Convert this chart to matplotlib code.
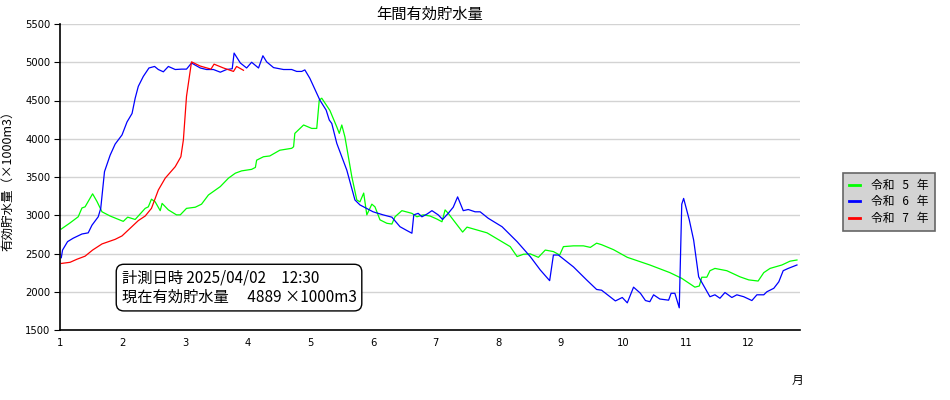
import matplotlib
matplotlib.use("Agg")
import matplotlib.pyplot as plt

plt.rcParams['font.family'] = ['Noto Sans CJK JP', 'DejaVu Sans']

# 令和5年 (x = 月)
r5_x = [1.02, 1.16, 1.29, 1.35, 1.40, 1.52, 1.59, 1.67, 1.80, 2.01, 2.08, 2.20, 2.36, 2.41,
        2.46, 2.52, 2.60, 2.63, 2.73, 2.86, 2.92, 3.02, 3.16, 3.26, 3.37, 3.56, 3.69, 3.80,
        3.90, 4.06, 4.12, 4.14, 4.25, 4.35, 4.51, 4.70, 4.73, 4.75, 4.89, 5.02, 5.10, 5.14,
        5.18, 5.31, 5.42, 5.46, 5.50, 5.55, 5.66, 5.74, 5.79, 5.85, 5.90, 5.98, 6.03, 6.11,
        6.22, 6.30, 6.35, 6.46, 6.62, 6.70, 6.80, 6.91, 7.02, 7.10, 7.15, 7.20, 7.43, 7.50,
        7.82, 8.19, 8.30, 8.40, 8.51, 8.64, 8.75, 8.88, 8.98, 9.04, 9.20, 9.36, 9.47, 9.57,
        9.65, 9.84, 10.06, 10.42, 10.74, 10.93, 11.14, 11.21, 11.25, 11.33, 11.38, 11.46,
        11.65, 11.86, 12.00, 12.15, 12.24, 12.34, 12.53, 12.66, 12.77]
r5_y = [2820, 2900, 2980, 3095, 3110, 3280, 3180, 3045, 2990, 2920, 2975, 2945, 3090, 3110,
        3210, 3175, 3060, 3155, 3070, 3005, 3005, 3090, 3105, 3145, 3265, 3375, 3485, 3550,
        3580, 3600, 3625, 3720, 3765, 3775, 3850, 3875, 3895, 4070, 4180, 4135, 4135, 4505,
        4530, 4370, 4155, 4070, 4180, 4025, 3505, 3200, 3175, 3290, 3005, 3145, 3110, 2940,
        2895, 2885, 2980, 3060, 3025, 2980, 3005, 2990, 2950, 2915, 3070, 3025, 2780, 2845,
        2770, 2590, 2460, 2490, 2495, 2450, 2545, 2525, 2480, 2590, 2600, 2600, 2580, 2635,
        2615, 2550, 2450, 2350, 2250, 2175, 2060, 2075, 2190, 2190, 2275, 2305,
        2275, 2195, 2155, 2140, 2250, 2305, 2350, 2400, 2415]

# 令和6年
r6_x = [1.02, 1.04, 1.12, 1.21, 1.35, 1.45, 1.51, 1.61, 1.65, 1.71, 1.80, 1.88, 1.99, 2.07,
        2.15, 2.20, 2.25, 2.33, 2.42, 2.51, 2.57, 2.65, 2.73, 2.84, 2.94, 3.02, 3.10, 3.24,
        3.34, 3.45, 3.56, 3.66, 3.75, 3.78, 3.88, 3.98, 4.06, 4.17, 4.24, 4.30, 4.41, 4.57,
        4.70, 4.78, 4.86, 4.91, 4.99, 5.15, 5.25, 5.30, 5.34, 5.42, 5.58, 5.71, 5.79, 6.00,
        6.16, 6.30, 6.43, 6.54, 6.62, 6.65, 6.72, 6.78, 6.86, 6.94, 7.04, 7.11, 7.20, 7.28,
        7.35, 7.44, 7.52, 7.63, 7.71, 7.84, 8.06, 8.30, 8.51, 8.67, 8.82, 8.88, 8.96, 9.20,
        9.41, 9.57, 9.65, 9.87, 9.98, 10.06, 10.16, 10.27, 10.35, 10.42, 10.48, 10.58, 10.72,
        10.76, 10.82, 10.89, 10.93, 10.96, 11.05, 11.12, 11.20, 11.38, 11.46, 11.54, 11.62,
        11.73, 11.81, 11.92, 12.05, 12.13, 12.24, 12.29, 12.40, 12.48, 12.55, 12.63, 12.77]
r6_y = [2445, 2545, 2655, 2700, 2755, 2770, 2870, 2980, 3090, 3570, 3785, 3930, 4050, 4220,
        4330, 4530, 4685, 4815, 4925, 4945, 4905, 4875, 4945, 4905, 4910, 4910, 4990, 4925,
        4905, 4905, 4870, 4905, 4915, 5120, 4990, 4925, 5000, 4925, 5085, 5005, 4930, 4905,
        4905, 4880, 4880, 4900, 4790, 4505, 4375, 4245, 4200, 3940, 3590, 3200, 3135, 3045,
        3005, 2975, 2850, 2800, 2765, 3005, 3025, 2980, 3015, 3060, 3005, 2945, 3025, 3105,
        3240, 3060, 3075, 3045, 3045, 2960, 2850, 2655, 2460, 2285, 2145, 2480, 2480, 2325,
        2155, 2030, 2020, 1880, 1925, 1855, 2060, 1980, 1885, 1870, 1960, 1905, 1890,
        1980, 1980, 1790, 3145, 3220, 2940, 2675, 2195, 1935, 1960, 1915, 1990,
        1925, 1960, 1935, 1885, 1960, 1960, 2000, 2045, 2130, 2275, 2305, 2350]

# 令和7年
r7_x = [1.02, 1.16, 1.27, 1.40, 1.52, 1.67, 1.88, 1.99, 2.12, 2.25, 2.36, 2.46, 2.57, 2.68,
        2.84, 2.93, 2.97, 3.02, 3.10, 3.24, 3.41, 3.46, 3.61, 3.77, 3.82, 3.93]
r7_y = [2370, 2385, 2425, 2465, 2545, 2625, 2685, 2730, 2830, 2930, 2990, 3090, 3330, 3485,
        3635, 3765, 3985, 4555, 5005, 4950, 4910, 4975, 4925, 4880, 4945, 4895]

months = list(range(1, 13))
yticks = [1500, 2000, 2500, 3000, 3500, 4000, 4500, 5000, 5500]

fig = plt.figure(figsize=(9.5, 4.0), dpi=100)
ax = fig.add_axes([0.0632, 0.175, 0.779, 0.765])

ax.plot(r5_x, r5_y, color='#00ff00', lw=0.9, label='令和   5   年')
ax.plot(r6_x, r6_y, color='#0000ff', lw=0.9, label='令和   6   年')
ax.plot(r7_x, r7_y, color='#ff0000', lw=0.9, label='令和   7   年')

ax.set_xlim(1, 12.82)
ax.set_ylim(1500, 5500)
ax.set_xticks(months)
ax.set_yticks(yticks)
ax.tick_params(axis='x', length=0, pad=6, labelsize=7.2)
ax.tick_params(axis='y', length=4, pad=3, labelsize=7.2)
for lab in ax.get_xticklabels() + ax.get_yticklabels():
    lab.set_family('DejaVu Sans')
ax.grid(axis='y', color='#d3d3d3', lw=1)
ax.set_axisbelow(True)
ax.spines['top'].set_visible(False)
ax.spines['right'].set_visible(False)
ax.spines['left'].set_linewidth(1.2)
ax.spines['bottom'].set_linewidth(1.2)

ax.set_title('年間有効貯水量', fontsize=11, pad=4)
fig.text(0.008, 0.555, '有効貯水量（×1000m3）', rotation=90, ha='center', va='center', fontsize=9)
fig.text(0.839, 0.05, '月', ha='center', va='center', fontsize=8.5)

fig.text(0.2516, 0.281, '計測日時 2025/04/02　12:30\n現在有効貯水量　 4889 ×1000m3',
         ha='center', va='center', multialignment='left', fontsize=11, linespacing=1.15,
         bbox=dict(boxstyle='round,pad=0.35,rounding_size=0.5', fc='white', ec='black', lw=1))

leg = fig.legend(loc='upper left', bbox_to_anchor=(0.8874, 0.5675), fontsize=8.5,
                 fancybox=False, edgecolor='#666666', facecolor='#d3d3d3', framealpha=1,
                 handlelength=0.9, handletextpad=1.0, labelspacing=0.3, borderpad=0.5,
                 borderaxespad=0)
leg.get_frame().set_linewidth(1.2)
for line in leg.get_lines():
    line.set_linewidth(2)

fig.savefig('out.png', dpi=100)
